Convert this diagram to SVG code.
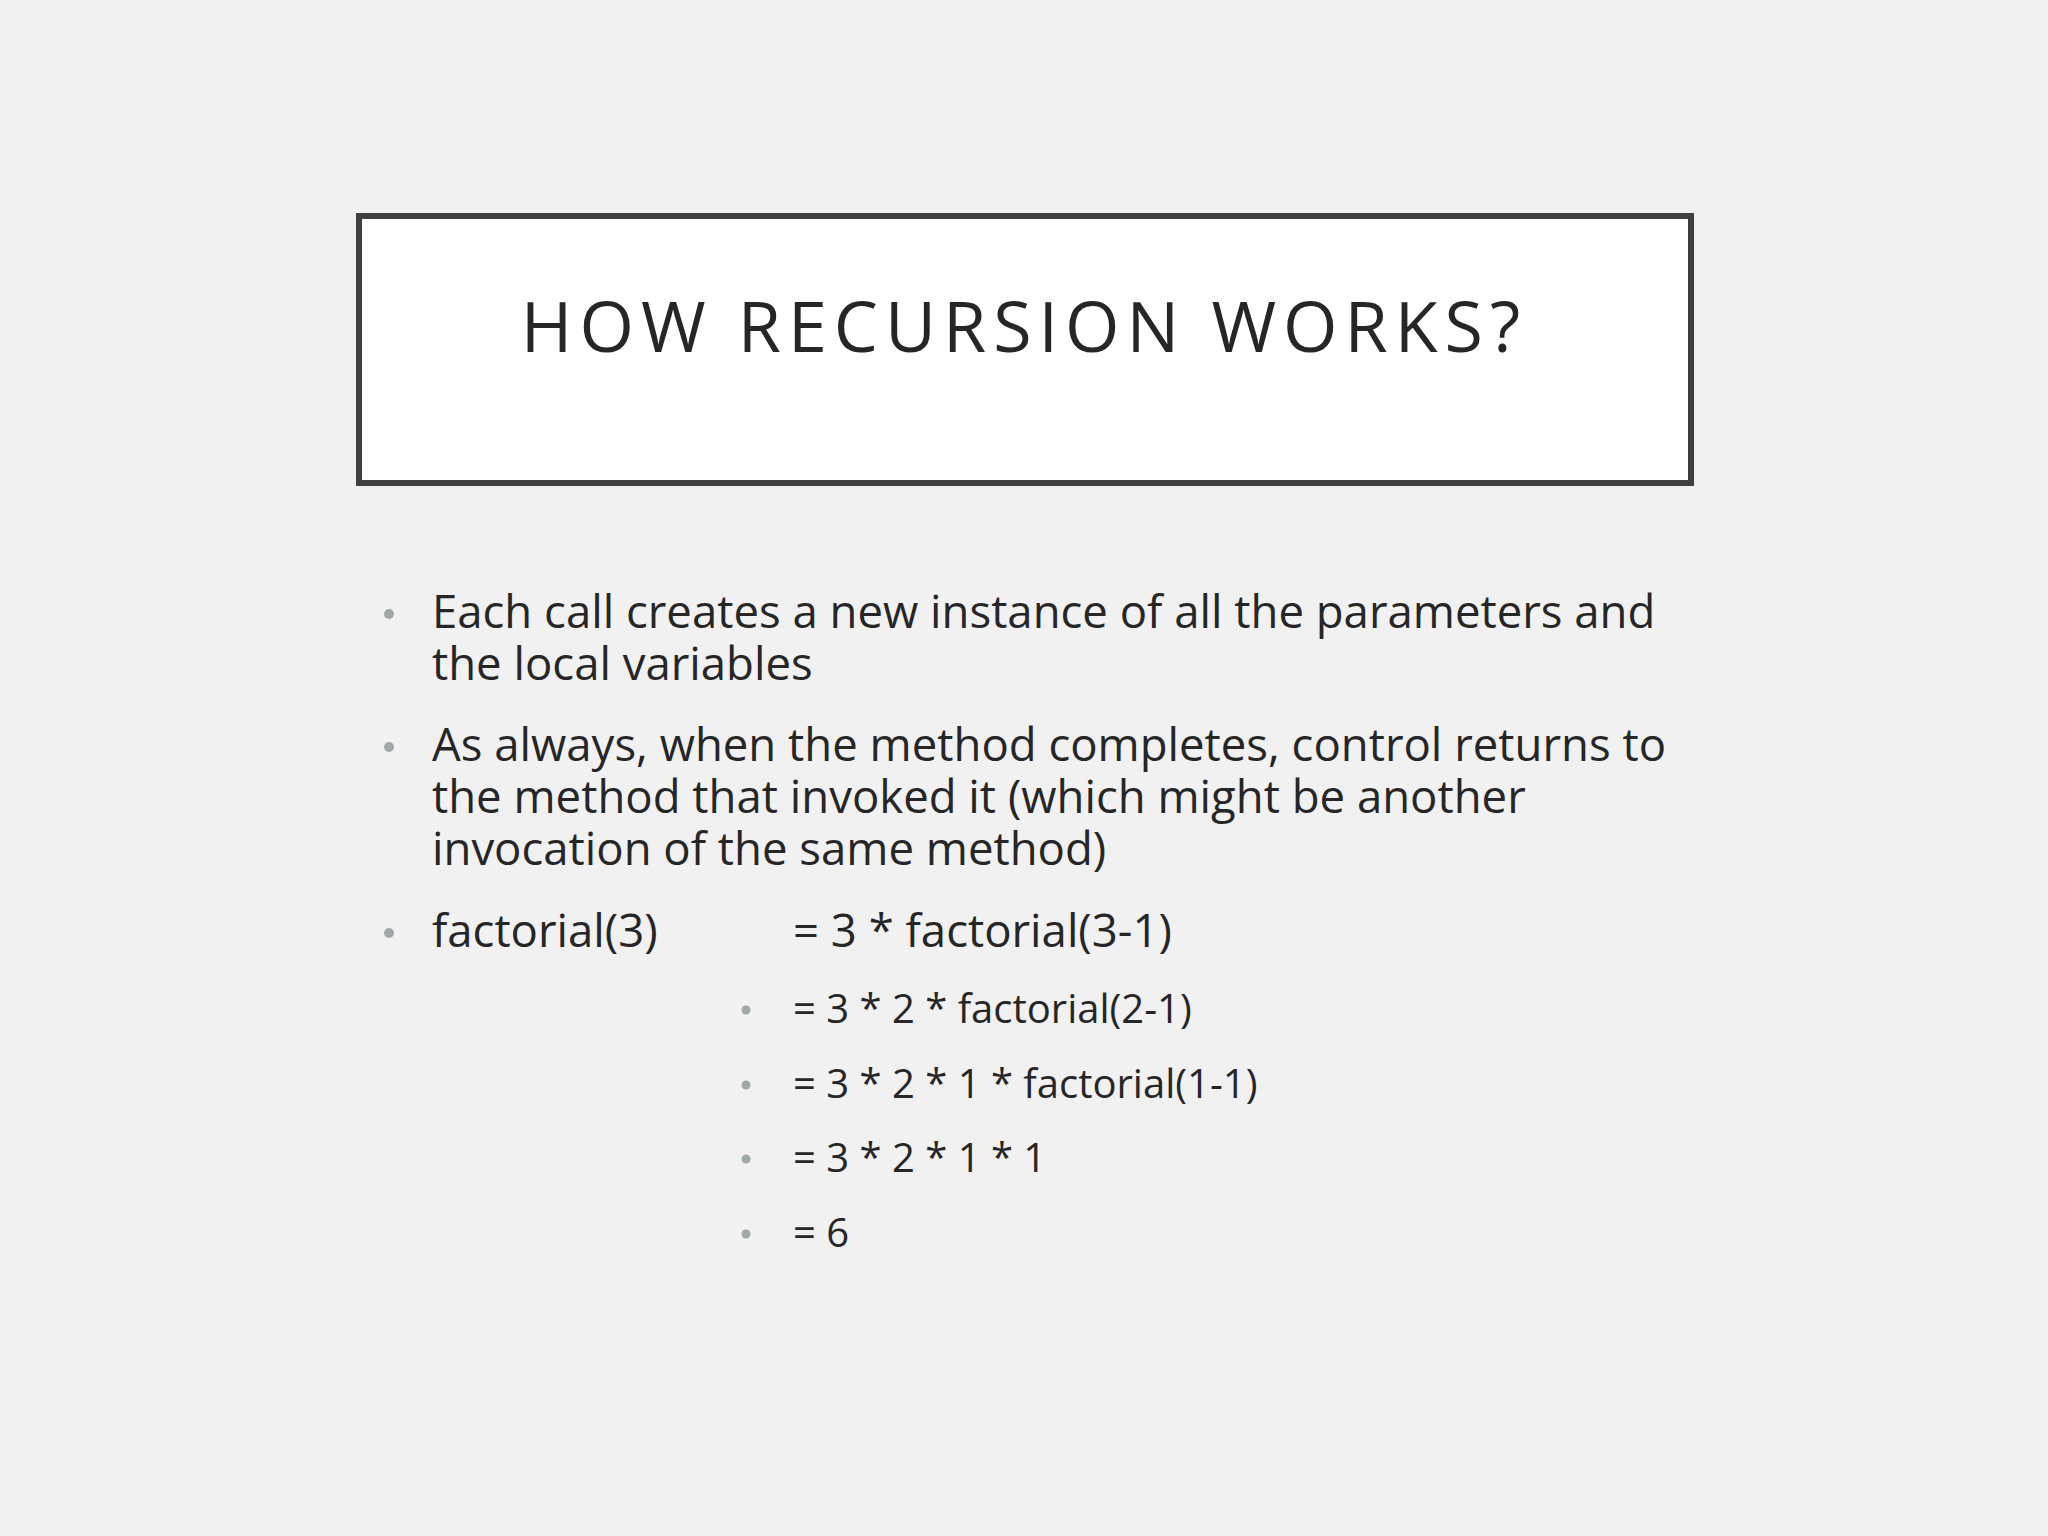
<svg xmlns="http://www.w3.org/2000/svg" width="2048" height="1536" viewBox="0 0 2048 1536">
<style>
.t{font-family:"Open Sans","Noto Sans",sans-serif;fill:#262626}
.b{font-size:45.5px}
.s{font-size:40px}
.d{fill:#9fa8a8}
</style>
<rect width="2048" height="1536" fill="#f2f1f2"/>
<g id="title">
<rect x="359" y="216" width="1332" height="267" fill="#ffffff" stroke="#404040" stroke-width="6"/>
<text class="t" x="1024" y="352" font-size="70" letter-spacing="7" text-anchor="middle">HOW RECURSION WORKS?</text>
</g>
<g id="body">
<circle class="d" cx="389" cy="614" r="5"/>
<text class="t b" x="432" y="628">Each call creates a new instance of all the parameters and</text>
<text class="t b" x="432" y="680">the local variables</text>
<circle class="d" cx="389" cy="747" r="5"/>
<text class="t b" x="432" y="761">As always, when the method completes, control returns to</text>
<text class="t b" x="432" y="813">the method that invoked it (which might be another</text>
<text class="t b" x="432" y="865">invocation of the same method)</text>
<circle class="d" cx="389" cy="933" r="5"/>
<text class="t b" x="432" y="947">factorial(3)</text>
<text class="t b" x="793" y="947">= 3 * factorial(3-1)</text>
<circle class="d" cx="746" cy="1010" r="4.5"/>
<text class="t s" x="793" y="1023">= 3 * 2 * factorial(2-1)</text>
<circle class="d" cx="746" cy="1085" r="4.5"/>
<text class="t s" x="793" y="1098">= 3 * 2 * 1 * factorial(1-1)</text>
<circle class="d" cx="746" cy="1159" r="4.5"/>
<text class="t s" x="793" y="1172">= 3 * 2 * 1 * 1</text>
<circle class="d" cx="746" cy="1234" r="4.5"/>
<text class="t s" x="793" y="1247">= 6</text>
</g>
</svg>
